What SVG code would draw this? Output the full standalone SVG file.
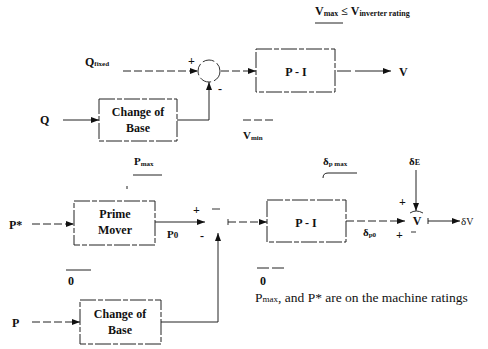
<svg xmlns="http://www.w3.org/2000/svg" width="488" height="349" viewBox="0 0 488 349">
<style>
text{font-family:"Liberation Serif","Times New Roman",serif;fill:#111;font-weight:bold}
.lbl{font-size:12px}
.sub{font-size:7px}
.box{fill:#fff;stroke:#222;stroke-width:1;stroke-dasharray:16 2 5 2}
.ln{fill:none;stroke:#222;stroke-width:1}
.dl{fill:none;stroke:#222;stroke-width:1;stroke-dasharray:8 3}
.sum{fill:none;stroke:#333;stroke-width:1}
.bar{stroke:#222;stroke-width:1}
.note{font-size:13.5px;font-weight:normal}
</style>
<defs>
<marker id="ah" viewBox="0 0 8 6" refX="8" refY="3" markerWidth="8" markerHeight="6" orient="auto" markerUnits="userSpaceOnUse">
<path d="M0,0 L8,3 L0,6 z" fill="#111"/>
</marker>
</defs>

<!-- annotations -->
<g id="annot">
<text x="315" y="15" style="font-size:12px">V<tspan style="font-size:8px" dy="1">max</tspan><tspan dy="-1" style="font-size:12px"> ≤ V</tspan><tspan style="font-size:8px" dy="1">inverter rating</tspan></text>
<line class="bar" x1="315" y1="23" x2="343" y2="23"/>
<text x="243" y="139" style="font-size:11px">V<tspan class="sub" dy="1">min</tspan></text>
<line class="bar" x1="243" y1="120" x2="275" y2="120" stroke-dasharray="8 3"/>
<text x="134" y="165" style="font-size:11px">P<tspan class="sub" dy="1">max</tspan></text>
<line class="bar" x1="133" y1="175" x2="162" y2="175"/>
<line class="bar" x1="127" y1="186" x2="127" y2="189"/>
<text x="323" y="165" style="font-size:11px">δ<tspan class="sub" dy="1">p max</tspan></text>
<path class="ln" d="M323,178 Q323,173 328,173 L357,173"/>
<text x="409" y="165" style="font-size:11px">δ<tspan style="font-size:8px">E</tspan></text>
<line class="bar" x1="66" y1="270" x2="91" y2="270"/>
<text x="68" y="285" class="lbl">0</text>
<line class="bar" x1="257" y1="268" x2="285" y2="268" stroke-dasharray="12 3"/>
<text x="260" y="285" class="lbl">0</text>
<text x="255" y="302" class="note">P<tspan style="font-size:9px">max</tspan>, and P* are on the machine ratings</text>
</g>

<!-- top loop -->
<g id="n-qfixed"><text x="85" y="66" class="lbl">Q<tspan class="sub">fixed</tspan></text></g>
<g id="n-q"><text x="40" y="124" class="lbl">Q</text></g>
<g id="n-cob1">
<rect class="box" x="99" y="99" width="78" height="42"/>
<text x="138" y="116" class="lbl" text-anchor="middle">Change of</text>
<text x="138" y="132" class="lbl" text-anchor="middle">Base</text>
</g>
<g id="n-sum1">
<circle class="sum" cx="209" cy="71" r="11" stroke-dasharray="12 3"/>
<text x="188" y="65" class="lbl">+</text>
<text x="218" y="93" class="lbl">-</text>
</g>
<g id="n-pi1">
<rect class="box" x="256" y="49" width="79" height="43"/>
<text x="296" y="76" class="lbl" text-anchor="middle">P - I</text>
</g>
<g id="n-v"><text x="399" y="76" class="lbl">V</text></g>

<!-- bottom loop -->
<g id="n-pstar"><text x="9" y="229" class="lbl">P*</text></g>
<g id="n-pm">
<rect class="box" x="74" y="201" width="81" height="44"/>
<text x="115" y="218" class="lbl" text-anchor="middle">Prime</text>
<text x="115" y="234" class="lbl" text-anchor="middle">Mover</text>
</g>
<g id="n-p0"><text x="167" y="238" class="lbl" style="font-size:11px">P<tspan style="font-size:9px">0</tspan></text></g>
<g id="n-sum2">
<path class="sum" d="M212,209 L220,209"/>
<line class="sum" x1="228" y1="219" x2="228" y2="225"/>
<text x="193" y="214" class="lbl">+</text>
<text x="200" y="240" class="lbl">-</text>
</g>
<g id="n-pi2">
<rect class="box" x="267" y="200" width="79" height="42"/>
<text x="306" y="227" class="lbl" text-anchor="middle">P - I</text>
</g>
<g id="n-dp0"><text x="363" y="236" style="font-size:11px">δ<tspan class="sub" dy="1">p0</tspan></text></g>
<g id="n-sumv">
<path class="sum" d="M410,213 Q416,209 423,213"/>
<text x="417" y="225" class="lbl" text-anchor="middle">V</text>
<text x="399" y="206" class="lbl">+</text>
<text x="396" y="239" class="lbl">+</text>
<line class="sum" x1="411" y1="232" x2="416" y2="232"/>
</g>
<g id="n-dv"><text x="461" y="225" style="font-size:11px;font-weight:normal">δ<tspan style="font-size:10px">V</tspan></text></g>
<g id="n-p"><text x="12" y="327" class="lbl">P</text></g>
<g id="n-cob2">
<rect class="box" x="80" y="300" width="81" height="44"/>
<text x="120" y="318" class="lbl" text-anchor="middle">Change of</text>
<text x="120" y="334" class="lbl" text-anchor="middle">Base</text>
</g>

<g id="connectors">
<line class="dl" x1="123" y1="71" x2="198" y2="71" marker-end="url(#ah)"/>
<line class="ln" x1="63" y1="120" x2="99" y2="120" marker-end="url(#ah)"/>
<polyline class="ln" points="177,120 209,120 209,82" marker-end="url(#ah)"/>
<line class="dl" x1="221" y1="71" x2="256" y2="71" marker-end="url(#ah)"/>
<line class="ln" x1="337" y1="71" x2="391" y2="71" marker-end="url(#ah)" stroke-dasharray="14 4 40"/>
<line class="dl" x1="32" y1="224" x2="74" y2="224" marker-end="url(#ah)"/>
<line class="ln" x1="155" y1="222" x2="205" y2="222" marker-end="url(#ah)"/>
<line class="dl" x1="228" y1="222" x2="267" y2="222" marker-end="url(#ah)"/>
<line class="dl" x1="346" y1="221" x2="405" y2="221" marker-end="url(#ah)"/>
<line class="ln" x1="416" y1="170" x2="416" y2="211" marker-end="url(#ah)"/>
<line class="ln" x1="428" y1="221" x2="460" y2="221" marker-end="url(#ah)"/>
<line class="ln" x1="428" y1="218" x2="428" y2="224"/>
<line class="dl" x1="32" y1="322" x2="80" y2="322" marker-end="url(#ah)"/>
<polyline class="ln" points="161,322 218,322 218,233" marker-end="url(#ah)"/>
</g>
</svg>
